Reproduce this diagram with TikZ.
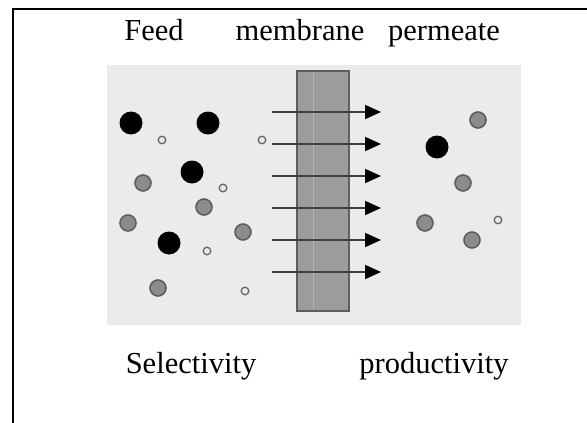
\documentclass[tikz,border=0pt]{standalone}
\usepackage{fontspec}
\setmainfont{Liberation Serif}
\usetikzlibrary{arrows.meta}

\definecolor{panel}{HTML}{EBEBEB}
\definecolor{wall}{HTML}{9C9C9C}
\definecolor{ring}{HTML}{5E5E5E}

\tikzset{
	caption/.style={font=\fontsize{30.5}{36}\selectfont, inner sep=0pt, anchor=base},
	flux/.style={draw=black!75, line width=2pt, -{Triangle[length=16pt,width=14pt,color=black]}},
}
\newcommand{\bigmol}{circle[radius=11.5]}
\newcommand{\midmol}{circle[radius=8]}
\newcommand{\tinymol}{circle[radius=3.8]}

\begin{document}
\begin{tikzpicture}[x=1pt,y=-1pt]
\useasboundingbox (0,0) rectangle (587,423);
% cell border
\draw[line width=2pt] (12.5,423) -- (12.5,8.5) -- (587,8.5);

\node[caption] (feed) at (154,40) {Feed};
\node[caption] (memb) at (300,40) {membrane};
\node[caption] (perm) at (444,40) {permeate};

\fill[panel] (107,65) rectangle (521,325);

% membrane
\draw[fill=wall, draw=ring, line width=1.2pt] (297,71) rectangle (349,311);
\draw[white!25!wall, line width=0.6pt] (313,73) -- (313,309);

% feed side
\coordinate (A) at (131,123);
\coordinate (B) at (208,123);
\coordinate (C) at (192,172);
\coordinate (D) at (169,243);
\coordinate (E) at (143,183);
\coordinate (F) at (204,207);
\coordinate (G) at (128,223);
\coordinate (H) at (243,232);
\coordinate (I) at (158,288);
\coordinate (J) at (162,140);
\coordinate (K) at (262,140);
\coordinate (L) at (223,188);
\coordinate (M) at (207,251);
\coordinate (N) at (245,291);
% permeate side
\coordinate (P) at (437,147);
\coordinate (Q) at (478,120);
\coordinate (R) at (463,183);
\coordinate (S) at (425,223);
\coordinate (T) at (472,240);
\coordinate (U) at (498,220);

\foreach \x in {(A), (B), (C), (D), (P)}{
	\fill \x \bigmol;
}
\foreach \x in {(E), (F), (G), (H), (I), (Q), (R), (S), (T)}{
	\draw[fill=black!45, draw=ring, line width=1.6pt] \x \midmol;
}
\foreach \x in {(J), (K), (L), (M), (N), (U)}{
	\draw[fill=panel, draw=black!60, line width=1.3pt] \x \tinymol;
}

% passage through the membrane
\foreach \y in {112,144,176,208,240,272}{
	\draw[flux] (272,\y) -- (381,\y);
}

\node[caption] (sel) at (191,373) {Selectivity};
\node[caption] (prod) at (434,373) {productivity};
\end{tikzpicture}
\end{document}
